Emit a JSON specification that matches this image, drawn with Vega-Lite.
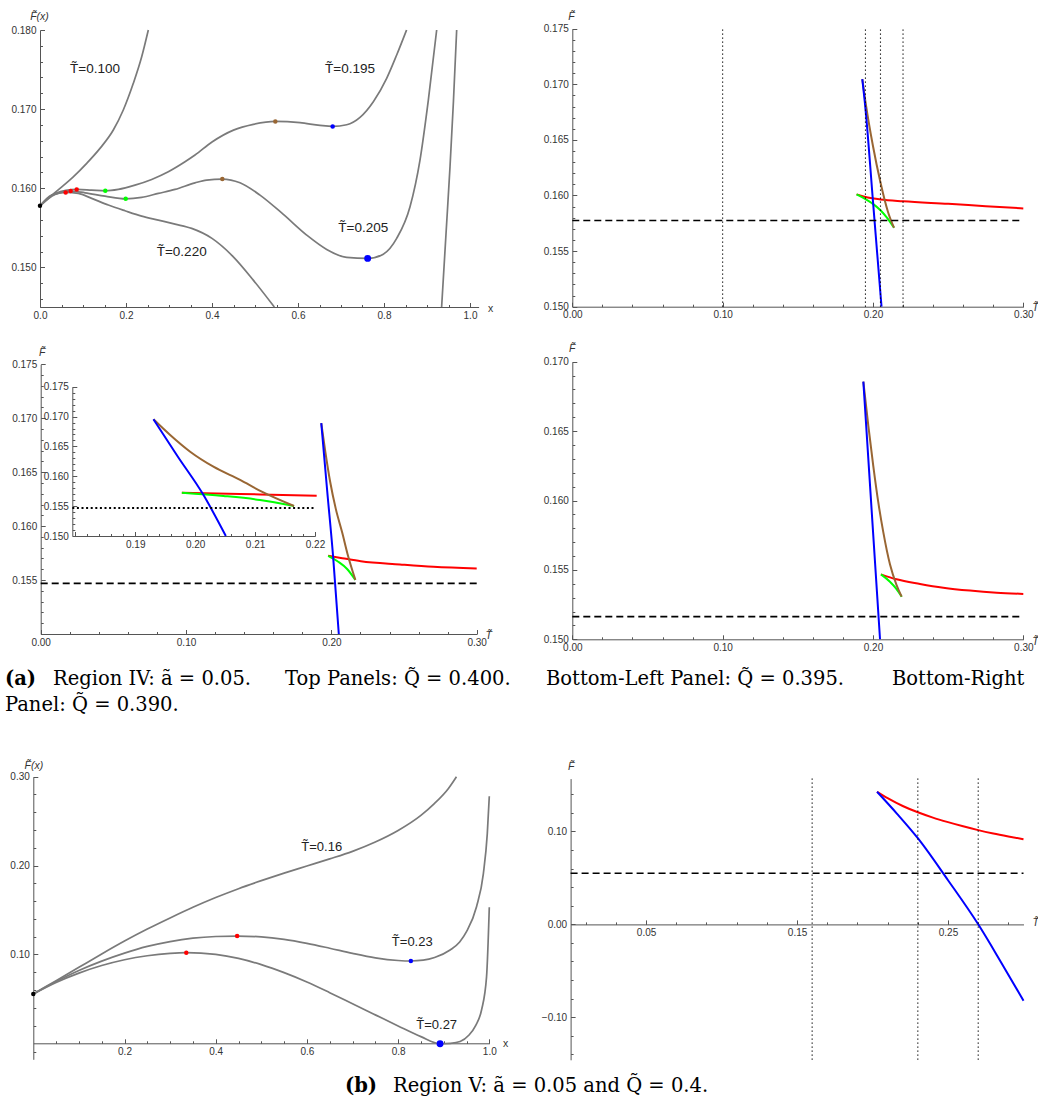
{
"$schema": "https://vega.github.io/schema/vega-lite/v6.json",
"width": 1038, "height": 1101, "autosize": {"type": "none"}, "padding": 0, "background": "white",
"config": {
  "view": {"stroke": null},
  "axis": {"grid": false, "domainColor": "#555", "domainWidth": 1, "tickColor": "#555", "tickWidth": 1,
    "labelFont": "Liberation Sans", "labelFontSize": 10, "labelColor": "#333", "labelOverlap": false, "labelFlush": false, "labelSeparation": -60,
    "titleFont": "Liberation Sans", "titleFontSize": 10.5, "titleFontWeight": "normal", "titleColor": "#333"}
},
"datasets": {
  "p1": [
    {"T":"0.100","seg":1,"x":0,"F":0.15778},{"T":"0.100","seg":1,"x":0.0233,"F":0.15893},{"T":"0.100","seg":1,"x":0.0465,"F":0.15999},{"T":"0.100","seg":1,"x":0.0774,"F":0.16145},{"T":"0.100","seg":1,"x":0.1086,"F":0.16315},{"T":"0.100","seg":1,"x":0.1395,"F":0.16504},{"T":"0.100","seg":1,"x":0.1705,"F":0.16736},{"T":"0.100","seg":1,"x":0.1937,"F":0.16989},{"T":"0.100","seg":1,"x":0.217,"F":0.17326},{"T":"0.100","seg":1,"x":0.2365,"F":0.17662},{"T":"0.100","seg":1,"x":0.2519,"F":0.18},
    {"T":"0.195","seg":1,"x":0,"F":0.15778},{"T":"0.195","seg":1,"x":0.0349,"F":0.15935},{"T":"0.195","seg":1,"x":0.0853,"F":0.15986},{"T":"0.195","seg":1,"x":0.1202,"F":0.15977},{"T":"0.195","seg":1,"x":0.1519,"F":0.15968},{"T":"0.195","seg":1,"x":0.1822,"F":0.15986},{"T":"0.195","seg":1,"x":0.2209,"F":0.1604},{"T":"0.195","seg":1,"x":0.2597,"F":0.16112},{"T":"0.195","seg":1,"x":0.2984,"F":0.16209},{"T":"0.195","seg":1,"x":0.3372,"F":0.16335},{"T":"0.195","seg":1,"x":0.3605,"F":0.1642},{"T":"0.195","seg":1,"x":0.4,"F":0.16585},{"T":"0.195","seg":1,"x":0.45,"F":0.16735},{"T":"0.195","seg":1,"x":0.4961,"F":0.16808},{"T":"0.195","seg":1,"x":0.5473,"F":0.16845},{"T":"0.195","seg":1,"x":0.6047,"F":0.16829},{"T":"0.195","seg":1,"x":0.6512,"F":0.16795},{"T":"0.195","seg":1,"x":0.6806,"F":0.16782},{"T":"0.195","seg":1,"x":0.7132,"F":0.16803},{"T":"0.195","seg":1,"x":0.7442,"F":0.16896},{"T":"0.195","seg":1,"x":0.7752,"F":0.17094},{"T":"0.195","seg":1,"x":0.8062,"F":0.17389},{"T":"0.195","seg":1,"x":0.8295,"F":0.17684},{"T":"0.195","seg":1,"x":0.8525,"F":0.18},
    {"T":"0.205","seg":1,"x":0,"F":0.15778},{"T":"0.205","seg":1,"x":0.0349,"F":0.15923},{"T":"0.205","seg":1,"x":0.0713,"F":0.15965},{"T":"0.205","seg":1,"x":0.1047,"F":0.15943},{"T":"0.205","seg":1,"x":0.1512,"F":0.15901},{"T":"0.205","seg":1,"x":0.1993,"F":0.15867},{"T":"0.205","seg":1,"x":0.2364,"F":0.15885},{"T":"0.205","seg":1,"x":0.2752,"F":0.15935},{"T":"0.205","seg":1,"x":0.314,"F":0.15986},{"T":"0.205","seg":1,"x":0.3605,"F":0.16069},{"T":"0.205","seg":1,"x":0.3876,"F":0.16104},{"T":"0.205","seg":1,"x":0.424,"F":0.16117},{"T":"0.205","seg":1,"x":0.4651,"F":0.1607},{"T":"0.205","seg":1,"x":0.5116,"F":0.15914},{"T":"0.205","seg":1,"x":0.5659,"F":0.1567},{"T":"0.205","seg":1,"x":0.6202,"F":0.15409},{"T":"0.205","seg":1,"x":0.6667,"F":0.15228},{"T":"0.205","seg":1,"x":0.7132,"F":0.15126},{"T":"0.205","seg":1,"x":0.762,"F":0.15114},{"T":"0.205","seg":1,"x":0.7984,"F":0.15168},{"T":"0.205","seg":1,"x":0.8295,"F":0.15367},{"T":"0.205","seg":1,"x":0.8605,"F":0.15767},{"T":"0.205","seg":1,"x":0.8837,"F":0.16357},{"T":"0.205","seg":1,"x":0.9031,"F":0.17115},{"T":"0.205","seg":1,"x":0.9225,"F":0.18},
    {"T":"0.220","seg":1,"x":0,"F":0.15778},{"T":"0.220","seg":1,"x":0.0271,"F":0.15914},{"T":"0.220","seg":1,"x":0.0597,"F":0.15948},{"T":"0.220","seg":1,"x":0.0891,"F":0.15935},{"T":"0.220","seg":1,"x":0.1202,"F":0.15872},{"T":"0.220","seg":1,"x":0.1589,"F":0.15788},{"T":"0.220","seg":1,"x":0.1977,"F":0.15716},{"T":"0.220","seg":1,"x":0.2364,"F":0.15649},{"T":"0.220","seg":1,"x":0.2752,"F":0.15598},{"T":"0.220","seg":1,"x":0.314,"F":0.15547},{"T":"0.220","seg":1,"x":0.3527,"F":0.15493},{"T":"0.220","seg":1,"x":0.4,"F":0.15367},{"T":"0.220","seg":1,"x":0.4496,"F":0.15134},{"T":"0.220","seg":1,"x":0.496,"F":0.1484},{"T":"0.220","seg":1,"x":0.545,"F":0.145},
    {"T":"0.220","seg":2,"x":0.934,"F":0.145},{"T":"0.220","seg":2,"x":0.9445,"F":0.1545},{"T":"0.220","seg":2,"x":0.9535,"F":0.1627},{"T":"0.220","seg":2,"x":0.9615,"F":0.171},{"T":"0.220","seg":2,"x":0.969,"F":0.18}
  ],
  "p1dots": [
    {"T":"all","branch":"origin","x":0,"F":0.15778,"global":false},
    {"T":"0.220","branch":"max1","x":0.0597,"F":0.15948,"global":false},
    {"T":"0.205","branch":"max1","x":0.0713,"F":0.15965,"global":false},
    {"T":"0.195","branch":"max1","x":0.0853,"F":0.15986,"global":false},
    {"T":"0.195","branch":"min1","x":0.1519,"F":0.15968,"global":false},
    {"T":"0.205","branch":"min1","x":0.1993,"F":0.15867,"global":false},
    {"T":"0.195","branch":"max2","x":0.5473,"F":0.16845,"global":false},
    {"T":"0.205","branch":"max2","x":0.424,"F":0.16117,"global":false},
    {"T":"0.195","branch":"min2","x":0.6806,"F":0.16782,"global":false},
    {"T":"0.205","branch":"min2","x":0.762,"F":0.15114,"global":true}
  ],
  "p1labels": [
    {"label":"T\u0303=0.100","x":0.1279,"F":0.17507},
    {"label":"T\u0303=0.195","x":0.7209,"F":0.17507},
    {"label":"T\u0303=0.205","x":0.7519,"F":0.15493},
    {"label":"T\u0303=0.220","x":0.3295,"F":0.1519}
  ],
  "p2": [
    {"branch":"max1","T":0.1891,"F":0.1601},{"branch":"max1","T":0.195,"F":0.15986},{"branch":"max1","T":0.205,"F":0.15965},{"branch":"max1","T":0.22,"F":0.15948},{"branch":"max1","T":0.25,"F":0.15925},{"branch":"max1","T":0.275,"F":0.15904},{"branch":"max1","T":0.3,"F":0.15884},
    {"branch":"min1","T":0.1891,"F":0.1601},{"branch":"min1","T":0.195,"F":0.15968},{"branch":"min1","T":0.2,"F":0.15925},{"branch":"min1","T":0.205,"F":0.15867},{"branch":"min1","T":0.209,"F":0.15805},{"branch":"min1","T":0.214,"F":0.1571},
    {"branch":"max2","T":0.1929,"F":0.17047},{"branch":"max2","T":0.195,"F":0.16845},{"branch":"max2","T":0.2,"F":0.16445},{"branch":"max2","T":0.205,"F":0.16117},{"branch":"max2","T":0.21,"F":0.15852},{"branch":"max2","T":0.214,"F":0.1571},
    {"branch":"min2","T":0.1929,"F":0.17047},{"branch":"min2","T":0.195,"F":0.16782},{"branch":"min2","T":0.2,"F":0.1595},{"branch":"min2","T":0.205,"F":0.15114},{"branch":"min2","T":0.2057,"F":0.15}
  ],
  "p2v": [{"T":0.1,"F":0.15},{"T":0.1,"F":0.175},{"T":0.195,"F":0.15},{"T":0.195,"F":0.175},{"T":0.205,"F":0.15},{"T":0.205,"F":0.175},{"T":0.22,"F":0.15},{"T":0.22,"F":0.175}],
  "p2h": [{"T":0,"F":0.15775},{"T":0.3,"F":0.15775}],
  "p3": [
    {"branch":"max1","T":0.19778,"F":0.15725},{"branch":"max1","T":0.2075,"F":0.15703},{"branch":"max1","T":0.22028,"F":0.15675},{"branch":"max1","T":0.2472,"F":0.15645},{"branch":"max1","T":0.2702,"F":0.15623},{"branch":"max1","T":0.3,"F":0.15608},
    {"branch":"min1","T":0.19778,"F":0.15725},{"branch":"min1","T":0.20472,"F":0.1567},{"branch":"min1","T":0.21083,"F":0.15603},{"branch":"min1","T":0.2165,"F":0.15502},
    {"branch":"max2","T":0.19305,"F":0.16954},{"branch":"max2","T":0.19583,"F":0.16691},{"branch":"max2","T":0.19917,"F":0.16411},{"branch":"max2","T":0.20305,"F":0.1616},{"branch":"max2","T":0.2075,"F":0.15938},{"branch":"max2","T":0.21112,"F":0.15742},{"branch":"max2","T":0.2165,"F":0.15502},
    {"branch":"min2","T":0.19305,"F":0.16954},{"branch":"min2","T":0.19712,"F":0.16328},{"branch":"min2","T":0.20122,"F":0.15715},{"branch":"min2","T":0.20512,"F":0.15}
  ],
  "p3h": [{"T":0,"F":0.1547},{"T":0.3,"F":0.1547}],
  "p3insh": [{"T":0.1795,"F":0.1547},{"T":0.22,"F":0.1547}],
  "p4": [
    {"branch":"max1","T":0.2053,"F":0.15468},{"branch":"max1","T":0.2157,"F":0.15432},{"branch":"max1","T":0.2313,"F":0.15399},{"branch":"max1","T":0.2468,"F":0.15372},{"branch":"max1","T":0.2645,"F":0.15351},{"branch":"max1","T":0.2823,"F":0.15336},{"branch":"max1","T":0.3,"F":0.15327},
    {"branch":"min1","T":0.2053,"F":0.15468},{"branch":"min1","T":0.2113,"F":0.15415},{"branch":"min1","T":0.2153,"F":0.15367},{"branch":"min1","T":0.2191,"F":0.15307},
    {"branch":"max2","T":0.1936,"F":0.16856},{"branch":"max2","T":0.1969,"F":0.1654},{"branch":"max2","T":0.2002,"F":0.1625},{"branch":"max2","T":0.2035,"F":0.1599},{"branch":"max2","T":0.2069,"F":0.1577},{"branch":"max2","T":0.2113,"F":0.1554},{"branch":"max2","T":0.2157,"F":0.1539},{"branch":"max2","T":0.2191,"F":0.15307},
    {"branch":"min2","T":0.1936,"F":0.16856},{"branch":"min2","T":0.1991,"F":0.15932},{"branch":"min2","T":0.2047,"F":0.15}
  ],
  "p4h": [{"T":0,"F":0.15163},{"T":0.3,"F":0.15163}],
  "p5": [
    {"T":"0.16","x":0,"F":0.0555},{"T":"0.16","x":0.05,"F":0.0705},{"T":"0.16","x":0.1,"F":0.0855},{"T":"0.16","x":0.15,"F":0.1005},{"T":"0.16","x":0.2,"F":0.115},{"T":"0.16","x":0.25,"F":0.1285},{"T":"0.16","x":0.3,"F":0.141},{"T":"0.16","x":0.35,"F":0.153},{"T":"0.16","x":0.4,"F":0.164},{"T":"0.16","x":0.45,"F":0.174},{"T":"0.16","x":0.5,"F":0.183},{"T":"0.16","x":0.55,"F":0.1915},{"T":"0.16","x":0.6,"F":0.1995},{"T":"0.16","x":0.65,"F":0.2075},{"T":"0.16","x":0.7,"F":0.216},{"T":"0.16","x":0.75,"F":0.2265},{"T":"0.16","x":0.8,"F":0.2395},{"T":"0.16","x":0.85,"F":0.2565},{"T":"0.16","x":0.88,"F":0.27},{"T":"0.16","x":0.91,"F":0.2865},{"T":"0.16","x":0.928,"F":0.3},
    {"T":"0.23","x":0,"F":0.0555},{"T":"0.23","x":0.05,"F":0.0695},{"T":"0.23","x":0.1,"F":0.082},{"T":"0.23","x":0.15,"F":0.0925},{"T":"0.23","x":0.2,"F":0.1015},{"T":"0.23","x":0.25,"F":0.109},{"T":"0.23","x":0.3,"F":0.1145},{"T":"0.23","x":0.35,"F":0.1183},{"T":"0.23","x":0.4,"F":0.1202},{"T":"0.23","x":0.447,"F":0.1207},{"T":"0.23","x":0.5,"F":0.1198},{"T":"0.23","x":0.55,"F":0.117},{"T":"0.23","x":0.6,"F":0.1125},{"T":"0.23","x":0.65,"F":0.107},{"T":"0.23","x":0.7,"F":0.1012},{"T":"0.23","x":0.75,"F":0.0962},{"T":"0.23","x":0.8,"F":0.0932},{"T":"0.23","x":0.828,"F":0.0926},{"T":"0.23","x":0.855,"F":0.0935},{"T":"0.23","x":0.88,"F":0.0965},{"T":"0.23","x":0.914,"F":0.105},{"T":"0.23","x":0.935,"F":0.114},{"T":"0.23","x":0.95,"F":0.1256},{"T":"0.23","x":0.972,"F":0.1537},{"T":"0.23","x":0.987,"F":0.191},{"T":"0.23","x":0.9956,"F":0.236},{"T":"0.23","x":1,"F":0.278},
    {"T":"0.27","x":0,"F":0.0555},{"T":"0.27","x":0.05,"F":0.0685},{"T":"0.27","x":0.1,"F":0.079},{"T":"0.27","x":0.15,"F":0.0875},{"T":"0.27","x":0.2,"F":0.094},{"T":"0.27","x":0.25,"F":0.0985},{"T":"0.27","x":0.3,"F":0.1012},{"T":"0.27","x":0.3355,"F":0.102},{"T":"0.27","x":0.4,"F":0.1},{"T":"0.27","x":0.45,"F":0.0955},{"T":"0.27","x":0.5,"F":0.0885},{"T":"0.27","x":0.55,"F":0.0795},{"T":"0.27","x":0.6,"F":0.069},{"T":"0.27","x":0.65,"F":0.057},{"T":"0.27","x":0.7,"F":0.0445},{"T":"0.27","x":0.75,"F":0.032},{"T":"0.27","x":0.8,"F":0.0195},{"T":"0.27","x":0.85,"F":0.0075},{"T":"0.27","x":0.892,"F":-0.0005},{"T":"0.27","x":0.915,"F":0},{"T":"0.27","x":0.936,"F":0.002},{"T":"0.27","x":0.955,"F":0.009},{"T":"0.27","x":0.97,"F":0.02},{"T":"0.27","x":0.983,"F":0.0375},{"T":"0.27","x":0.994,"F":0.075},{"T":"0.27","x":1,"F":0.153}
  ],
  "p5dots": [
    {"T":"all","branch":"origin","x":0,"F":0.0555,"global":false},
    {"T":"0.23","branch":"max1","x":0.447,"F":0.1207,"global":false},
    {"T":"0.27","branch":"max1","x":0.3355,"F":0.102,"global":false},
    {"T":"0.23","branch":"min2","x":0.828,"F":0.0926,"global":false},
    {"T":"0.27","branch":"min2","x":0.892,"F":-0.0005,"global":true}
  ],
  "p5labels": [
    {"label":"T\u0303=0.16","x":0.6325,"F":0.2205},
    {"label":"T\u0303=0.23","x":0.8311,"F":0.1143},
    {"label":"T\u0303=0.27","x":0.8846,"F":0.0203}
  ],
  "p6": [
    {"branch":"max1","T":0.203,"F":0.1428},{"branch":"max1","T":0.21,"F":0.136},{"branch":"max1","T":0.22,"F":0.1275},{"branch":"max1","T":0.23,"F":0.1207},{"branch":"max1","T":0.24,"F":0.115},{"branch":"max1","T":0.25,"F":0.1101},{"branch":"max1","T":0.26,"F":0.1056},{"branch":"max1","T":0.27,"F":0.1015},{"branch":"max1","T":0.28,"F":0.0979},{"branch":"max1","T":0.29,"F":0.0947},{"branch":"max1","T":0.3,"F":0.0917},
    {"branch":"min2","T":0.203,"F":0.1428},{"branch":"min2","T":0.2164,"F":0.1188},{"branch":"min2","T":0.23,"F":0.0928},{"branch":"min2","T":0.25,"F":0.0475},{"branch":"min2","T":0.27,"F":0},{"branch":"min2","T":0.285,"F":-0.0405},{"branch":"min2","T":0.3,"F":-0.0823}
  ],
  "p6v": [{"T":0.16,"F":-0.146},{"T":0.16,"F":0.157},{"T":0.23,"F":-0.146},{"T":0.23,"F":0.157},{"T":0.27,"F":-0.146},{"T":0.27,"F":0.157}],
  "p6h": [{"T":0,"F":0.055},{"T":0.3,"F":0.055}],
  "capA": [
    {"role":"tag","col":0,"line":1,"text":"(a)"},
    {"role":"body","col":1,"line":1,"text":"Region IV: \u00e3 = 0.05."},
    {"role":"body","col":2,"line":1,"text":"Top Panels: Q\u0303 = 0.400."},
    {"role":"body","col":3,"line":1,"text":"Bottom-Left Panel: Q\u0303 = 0.395."},
    {"role":"body","col":4,"line":1,"text":"Bottom-Right"},
    {"role":"body","col":0,"line":2,"text":"Panel: Q\u0303 = 0.390."}
  ],
  "capB": [
    {"role":"tag","col":0,"line":1,"text":"(b)"},
    {"role":"body","col":1,"line":1,"text":"Region V: \u00e3 = 0.05 and Q\u0303 = 0.4."}
  ]
},
"layer": [
  {
    "layer": [
      {"data": {"name": "p1"}, "mark": {"type": "line", "interpolate": "monotone", "strokeWidth": 1.7, "color": "#7a7a7a"},
       "encoding": {
         "x": {"field": "x", "type": "quantitative", "scale": {"domain": [0, 1.02], "range": [40, 478.6], "nice": false, "zero": false},
           "axis": {"orient": "bottom", "offset": -794, "values": [0,0.05,0.1,0.15,0.2,0.25,0.3,0.35,0.4,0.45,0.5,0.55,0.6,0.65,0.7,0.75,0.8,0.85,0.9,0.95,1],
             "labelExpr": "abs(datum.value*5-round(datum.value*5))<0.001 ? format(datum.value,'.1f') : ''",
             "tickSize": {"condition": {"test": "abs(datum.value*5-round(datum.value*5))<0.001", "value": -4.5}, "value": -2.5},
             "labelOverlap": false, "labelFlush": false, "labelSeparation": -60,
             "labelPadding": 7.5, "title": "x", "titleX": 490, "titleY": 1, "titleAngle": 0, "titleAlign": "center", "titleBaseline": "middle"}},
         "y": {"field": "F", "type": "quantitative", "scale": {"domain": [0.145, 0.18], "range": [307, 30], "nice": false, "zero": false},
           "axis": {"orient": "left", "offset": -40, "values": [0.146,0.147,0.148,0.149,0.15,0.151,0.152,0.153,0.154,0.155,0.156,0.157,0.158,0.159,0.16,0.161,0.162,0.163,0.164,0.165,0.166,0.167,0.168,0.169,0.17,0.171,0.172,0.173,0.174,0.175,0.176,0.177,0.178,0.179,0.18],
             "labelExpr": "abs(datum.value*200-round(datum.value*200))<0.001 ? format(datum.value,'.3f') : ''",
             "tickSize": {"condition": {"test": "abs(datum.value*200-round(datum.value*200))<0.001", "value": -4.5}, "value": -2.5},
             "labelOverlap": false, "labelFlush": false, "labelSeparation": -60,
             "labelPadding": 8.5, "title": "F\u0303(x)", "titleX": -1, "titleY": 16, "titleAngle": 0, "titleAlign": "center", "titleBaseline": "middle", "titleFontStyle": "italic"}},
         "detail": [{"field": "T", "type": "nominal"}, {"field": "seg", "type": "nominal"}]
       }},
      {"data": {"name": "p1dots"}, "mark": {"type": "circle", "opacity": 1},
       "encoding": {
         "x": {"field": "x", "type": "quantitative"},
         "y": {"field": "F", "type": "quantitative"},
         "color": {"field": "branch", "type": "nominal", "scale": {"domain": ["origin","max1","min1","max2","min2"], "range": ["#000000","#ff0000","#00ff00","#996633","#0000ff"]}, "legend": null},
         "size": {"condition": {"test": "datum.global", "value": 48}, "value": 20}
       }},
      {"data": {"name": "p1labels"}, "mark": {"type": "text", "font": "Liberation Sans", "fontSize": 13.5, "color": "#222", "align": "center", "baseline": "middle"},
       "encoding": {
         "x": {"field": "x", "type": "quantitative"},
         "y": {"field": "F", "type": "quantitative"},
         "text": {"field": "label"}
       }}
    ]
  },
  {
    "layer": [
      {"data": {"name": "p2"}, "mark": {"type": "line", "interpolate": "monotone", "strokeWidth": 2},
       "encoding": {
         "x": {"field": "T", "type": "quantitative", "scale": {"domain": [0, 0.3], "range": [572.3, 1023.3], "nice": false, "zero": false},
           "axis": {"orient": "bottom", "offset": -794.3, "values": [0,0.01,0.02,0.03,0.04,0.05,0.06,0.07,0.08,0.09,0.1,0.11,0.12,0.13,0.14,0.15,0.16,0.17,0.18,0.19,0.2,0.21,0.22,0.23,0.24,0.25,0.26,0.27,0.28,0.29,0.3],
             "labelExpr": "abs(datum.value*20-round(datum.value*20))<0.001 ? format(datum.value,'.2f') : ''",
             "tickSize": {"condition": {"test": "abs(datum.value*20-round(datum.value*20))<0.001", "value": -4.5}, "value": -2.5},
             "labelOverlap": false, "labelFlush": false, "labelSeparation": -60,
             "labelPadding": 7.5, "title": "T\u0303", "titleX": 1035, "titleY": 1, "titleAngle": 0, "titleAlign": "center", "titleBaseline": "middle", "titleFontStyle": "italic"}},
         "y": {"field": "F", "type": "quantitative", "scale": {"domain": [0.15, 0.175], "range": [306.7, 28.7], "nice": false, "zero": false},
           "axis": {"orient": "left", "offset": -572.3, "values": [0.15,0.151,0.152,0.153,0.154,0.155,0.156,0.157,0.158,0.159,0.16,0.161,0.162,0.163,0.164,0.165,0.166,0.167,0.168,0.169,0.17,0.171,0.172,0.173,0.174,0.175],
             "labelExpr": "abs(datum.value*200-round(datum.value*200))<0.001 ? format(datum.value,'.3f') : ''",
             "tickSize": {"condition": {"test": "abs(datum.value*200-round(datum.value*200))<0.001", "value": -4.5}, "value": -2.5},
             "labelOverlap": false, "labelFlush": false, "labelSeparation": -60,
             "labelPadding": 8.5, "title": "F\u0303", "titleX": -1.3, "titleY": 16, "titleAngle": 0, "titleAlign": "center", "titleBaseline": "middle", "titleFontStyle": "italic"}},
         "color": {"field": "branch", "type": "nominal", "scale": {"domain": ["origin","max1","min1","max2","min2"], "range": ["#000000","#ff0000","#00ff00","#996633","#0000ff"]}, "legend": null}
       }},
      {"data": {"name": "p2v"}, "mark": {"type": "line", "strokeDash": [1.2, 2.8], "strokeWidth": 1.1, "color": "#000"},
       "encoding": {"x": {"field": "T", "type": "quantitative"}, "y": {"field": "F", "type": "quantitative"}, "detail": {"field": "T", "type": "nominal"}}},
      {"data": {"name": "p2h"}, "mark": {"type": "line", "strokeDash": [7, 4], "strokeWidth": 1.7, "color": "#000"},
       "encoding": {"x": {"field": "T", "type": "quantitative"}, "y": {"field": "F", "type": "quantitative"}}}
    ]
  },
  {
    "layer": [
      {"data": {"name": "p3"}, "mark": {"type": "line", "interpolate": "monotone", "strokeWidth": 2},
       "encoding": {
         "x": {"field": "T", "type": "quantitative", "scale": {"domain": [0, 0.3], "range": [40.7, 476.7], "nice": false, "zero": false},
           "axis": {"orient": "bottom", "offset": -467, "values": [0,0.01,0.02,0.03,0.04,0.05,0.06,0.07,0.08,0.09,0.1,0.11,0.12,0.13,0.14,0.15,0.16,0.17,0.18,0.19,0.2,0.21,0.22,0.23,0.24,0.25,0.26,0.27,0.28,0.29,0.3],
             "labelExpr": "abs(datum.value*20-round(datum.value*20))<0.001 ? format(datum.value,'.2f') : ''",
             "tickSize": {"condition": {"test": "abs(datum.value*20-round(datum.value*20))<0.001", "value": -4.5}, "value": -2.5},
             "labelOverlap": false, "labelFlush": false, "labelSeparation": -60,
             "labelPadding": 7.5, "title": "T\u0303", "titleX": 488.3, "titleY": 1, "titleAngle": 0, "titleAlign": "center", "titleBaseline": "middle", "titleFontStyle": "italic"}},
         "y": {"field": "F", "type": "quantitative", "scale": {"domain": [0.15, 0.175], "range": [634, 364.3], "nice": false, "zero": false},
           "axis": {"orient": "left", "offset": -40.7, "values": [0.15,0.151,0.152,0.153,0.154,0.155,0.156,0.157,0.158,0.159,0.16,0.161,0.162,0.163,0.164,0.165,0.166,0.167,0.168,0.169,0.17,0.171,0.172,0.173,0.174,0.175],
             "labelExpr": "datum.value > 0.1505 ? (abs(datum.value*200-round(datum.value*200))<0.001 ? format(datum.value,'.3f') : '') : ''",
             "tickSize": {"condition": {"test": "abs(datum.value*200-round(datum.value*200))<0.001", "value": -4.5}, "value": -2.5},
             "labelOverlap": false, "labelFlush": false, "labelSeparation": -60,
             "labelPadding": 8.5, "title": "F\u0303", "titleX": 1, "titleY": 352.7, "titleAngle": 0, "titleAlign": "center", "titleBaseline": "middle", "titleFontStyle": "italic"}},
         "color": {"field": "branch", "type": "nominal", "scale": {"domain": ["origin","max1","min1","max2","min2"], "range": ["#000000","#ff0000","#00ff00","#996633","#0000ff"]}, "legend": null}
       }},
      {"data": {"name": "p3h"}, "mark": {"type": "line", "strokeDash": [7, 4], "strokeWidth": 1.7, "color": "#000"},
       "encoding": {"x": {"field": "T", "type": "quantitative"}, "y": {"field": "F", "type": "quantitative"}}}
    ]
  },
  {
    "layer": [
      {"data": {"name": "p3"}, "transform": [{"filter": "datum.T <= 0.2205"}], "mark": {"type": "line", "interpolate": "monotone", "strokeWidth": 2},
       "encoding": {
         "x": {"field": "T", "type": "quantitative", "scale": {"domain": [0.1795, 0.22], "range": [72.3, 315], "nice": false, "zero": false},
           "axis": {"orient": "bottom", "offset": -565, "values": [0.18,0.182,0.184,0.186,0.188,0.19,0.192,0.194,0.196,0.198,0.2,0.202,0.204,0.206,0.208,0.21,0.212,0.214,0.216,0.218,0.22],
             "labelExpr": "datum.value > 0.185 ? (abs(datum.value*100-round(datum.value*100))<0.001 ? format(datum.value,'.2f') : '') : ''",
             "tickSize": {"condition": {"test": "abs(datum.value*100-round(datum.value*100))<0.001", "value": -4.5}, "value": -2.5},
             "labelOverlap": false, "labelFlush": false, "labelSeparation": -60,
             "labelPadding": 7.5, "title": ""}},
         "y": {"field": "F", "type": "quantitative", "scale": {"domain": [0.15, 0.175], "range": [536, 386.7], "nice": false, "zero": false},
           "axis": {"orient": "left", "offset": -72.3, "values": [0.15,0.151,0.152,0.153,0.154,0.155,0.156,0.157,0.158,0.159,0.16,0.161,0.162,0.163,0.164,0.165,0.166,0.167,0.168,0.169,0.17,0.171,0.172,0.173,0.174,0.175],
             "labelExpr": "abs(datum.value*200-round(datum.value*200))<0.001 ? format(datum.value,'.3f') : ''",
             "tickSize": {"condition": {"test": "abs(datum.value*200-round(datum.value*200))<0.001", "value": -4.5}, "value": -2.5},
             "labelOverlap": false, "labelFlush": false, "labelSeparation": -60,
             "labelPadding": 8.5, "title": ""}},
         "color": {"field": "branch", "type": "nominal", "scale": {"domain": ["origin","max1","min1","max2","min2"], "range": ["#000000","#ff0000","#00ff00","#996633","#0000ff"]}, "legend": null}
       }},
      {"data": {"name": "p3insh"}, "mark": {"type": "line", "strokeDash": [2, 2.6], "strokeWidth": 1.9, "color": "#000"},
       "encoding": {"x": {"field": "T", "type": "quantitative"}, "y": {"field": "F", "type": "quantitative"}}}
    ]
  },
  {
    "layer": [
      {"data": {"name": "p4"}, "mark": {"type": "line", "interpolate": "monotone", "strokeWidth": 2},
       "encoding": {
         "x": {"field": "T", "type": "quantitative", "scale": {"domain": [0, 0.3], "range": [572.3, 1023.3], "nice": false, "zero": false},
           "axis": {"orient": "bottom", "offset": -461.7, "values": [0,0.01,0.02,0.03,0.04,0.05,0.06,0.07,0.08,0.09,0.1,0.11,0.12,0.13,0.14,0.15,0.16,0.17,0.18,0.19,0.2,0.21,0.22,0.23,0.24,0.25,0.26,0.27,0.28,0.29,0.3],
             "labelExpr": "abs(datum.value*20-round(datum.value*20))<0.001 ? format(datum.value,'.2f') : ''",
             "tickSize": {"condition": {"test": "abs(datum.value*20-round(datum.value*20))<0.001", "value": -4.5}, "value": -2.5},
             "labelOverlap": false, "labelFlush": false, "labelSeparation": -60,
             "labelPadding": 7.5, "title": "T\u0303", "titleX": 1035, "titleY": 2, "titleAngle": 0, "titleAlign": "center", "titleBaseline": "middle", "titleFontStyle": "italic"}},
         "y": {"field": "F", "type": "quantitative", "scale": {"domain": [0.15, 0.17], "range": [639.3, 361.7], "nice": false, "zero": false},
           "axis": {"orient": "left", "offset": -572.3, "values": [0.15,0.151,0.152,0.153,0.154,0.155,0.156,0.157,0.158,0.159,0.16,0.161,0.162,0.163,0.164,0.165,0.166,0.167,0.168,0.169,0.17],
             "labelExpr": "abs(datum.value*200-round(datum.value*200))<0.001 ? format(datum.value,'.3f') : ''",
             "tickSize": {"condition": {"test": "abs(datum.value*200-round(datum.value*200))<0.001", "value": -4.5}, "value": -2.5},
             "labelOverlap": false, "labelFlush": false, "labelSeparation": -60,
             "labelPadding": 8.5, "title": "F\u0303", "titleX": -0.6, "titleY": 348.3, "titleAngle": 0, "titleAlign": "center", "titleBaseline": "middle", "titleFontStyle": "italic"}},
         "color": {"field": "branch", "type": "nominal", "scale": {"domain": ["origin","max1","min1","max2","min2"], "range": ["#000000","#ff0000","#00ff00","#996633","#0000ff"]}, "legend": null}
       }},
      {"data": {"name": "p4h"}, "mark": {"type": "line", "strokeDash": [7, 4], "strokeWidth": 1.7, "color": "#000"},
       "encoding": {"x": {"field": "T", "type": "quantitative"}, "y": {"field": "F", "type": "quantitative"}}}
    ]
  },
  {
    "layer": [
      {"data": {"name": "p5"}, "mark": {"type": "line", "interpolate": "monotone", "strokeWidth": 1.7, "color": "#7a7a7a"},
       "encoding": {
         "x": {"field": "x", "type": "quantitative", "scale": {"domain": [0, 1], "range": [33.3, 489.3], "nice": false, "zero": false},
           "axis": {"orient": "bottom", "offset": -57.7, "values": [0.05,0.1,0.15,0.2,0.25,0.3,0.35,0.4,0.45,0.5,0.55,0.6,0.65,0.7,0.75,0.8,0.85,0.9,0.95,1],
             "labelExpr": "abs(datum.value*5-round(datum.value*5))<0.001 ? format(datum.value,'.1f') : ''",
             "tickSize": {"condition": {"test": "abs(datum.value*5-round(datum.value*5))<0.001", "value": -4.5}, "value": -2.5},
             "labelOverlap": false, "labelFlush": false, "labelSeparation": -60,
             "labelPadding": 7.5, "title": "x", "titleX": 505, "titleY": 0, "titleAngle": 0, "titleAlign": "center", "titleBaseline": "middle"}},
         "y": {"field": "F", "type": "quantitative", "scale": {"domain": [-0.018, 0.3], "range": [1059.3, 776.7], "nice": false, "zero": false},
           "axis": {"orient": "left", "offset": -33.3, "values": [-0.01,0.01,0.02,0.03,0.04,0.05,0.06,0.07,0.08,0.09,0.1,0.11,0.12,0.13,0.14,0.15,0.16,0.17,0.18,0.19,0.2,0.21,0.22,0.23,0.24,0.25,0.26,0.27,0.28,0.29,0.3],
             "labelExpr": "abs(datum.value*20-round(datum.value*20))<0.001 ? format(datum.value,'.2f') : ''",
             "tickSize": {"condition": {"test": "abs(datum.value*20-round(datum.value*20))<0.001", "value": -4.5}, "value": -2.5},
             "labelOverlap": false, "labelFlush": false, "labelSeparation": -60,
             "labelPadding": 8.5, "title": "F\u0303(x)", "titleX": 0, "titleY": 765, "titleAngle": 0, "titleAlign": "center", "titleBaseline": "middle", "titleFontStyle": "italic"}},
         "detail": {"field": "T", "type": "nominal"}
       }},
      {"data": {"name": "p5dots"}, "mark": {"type": "circle", "opacity": 1},
       "encoding": {
         "x": {"field": "x", "type": "quantitative"},
         "y": {"field": "F", "type": "quantitative"},
         "color": {"field": "branch", "type": "nominal", "scale": {"domain": ["origin","max1","min1","max2","min2"], "range": ["#000000","#ff0000","#00ff00","#996633","#0000ff"]}, "legend": null},
         "size": {"condition": {"test": "datum.global", "value": 48}, "value": 20}
       }},
      {"data": {"name": "p5labels"}, "mark": {"type": "text", "font": "Liberation Sans", "fontSize": 13, "color": "#222", "align": "center", "baseline": "middle"},
       "encoding": {
         "x": {"field": "x", "type": "quantitative"},
         "y": {"field": "F", "type": "quantitative"},
         "text": {"field": "label"}
       }}
    ]
  },
  {
    "layer": [
      {"data": {"name": "p6"}, "mark": {"type": "line", "interpolate": "monotone", "strokeWidth": 2},
       "encoding": {
         "x": {"field": "T", "type": "quantitative", "scale": {"domain": [0, 0.3], "range": [570.6, 1023.5], "nice": false, "zero": false},
           "axis": {"orient": "bottom", "offset": -176.6, "values": [0.01,0.02,0.03,0.04,0.05,0.06,0.07,0.08,0.09,0.1,0.11,0.12,0.13,0.14,0.15,0.16,0.17,0.18,0.19,0.2,0.21,0.22,0.23,0.24,0.25,0.26,0.27,0.28,0.29,0.3],
             "labelExpr": "abs(datum.value*20-round(datum.value*20))<0.001 ? format(datum.value,'.2f') : ''",
             "tickSize": {"condition": {"test": "abs(datum.value*20-round(datum.value*20))<0.001", "value": -4.5}, "value": -2.5},
             "labelOverlap": false, "labelFlush": false, "labelSeparation": -60,
             "labelPadding": 7.5, "title": "T\u0303", "titleX": 1035.3, "titleY": -2, "titleAngle": 0, "titleAlign": "center", "titleBaseline": "middle", "titleFontStyle": "italic"}},
         "y": {"field": "F", "type": "quantitative", "scale": {"domain": [-0.146, 0.157], "range": [1059.8, 778.6], "nice": false, "zero": false},
           "axis": {"orient": "left", "offset": -570.6, "values": [-0.14,-0.13,-0.12,-0.11,-0.1,-0.09,-0.08,-0.07,-0.06,-0.05,-0.04,-0.03,-0.02,-0.01,0,0.01,0.02,0.03,0.04,0.05,0.06,0.07,0.08,0.09,0.1,0.11,0.12,0.13,0.14,0.15],
             "labelExpr": "abs(datum.value*20-round(datum.value*20))<0.001 ? format(datum.value,'.2f') : ''",
             "tickSize": {"condition": {"test": "abs(datum.value*20-round(datum.value*20))<0.001", "value": -4.5}, "value": -2.5},
             "labelOverlap": false, "labelFlush": false, "labelSeparation": -60,
             "labelPadding": 8.5, "title": "F\u0303", "titleX": 0, "titleY": 766, "titleAngle": 0, "titleAlign": "center", "titleBaseline": "middle", "titleFontStyle": "italic"}},
         "color": {"field": "branch", "type": "nominal", "scale": {"domain": ["origin","max1","min1","max2","min2"], "range": ["#000000","#ff0000","#00ff00","#996633","#0000ff"]}, "legend": null}
       }},
      {"data": {"name": "p6v"}, "mark": {"type": "line", "strokeDash": [1.2, 2.8], "strokeWidth": 1.1, "color": "#000"},
       "encoding": {"x": {"field": "T", "type": "quantitative"}, "y": {"field": "F", "type": "quantitative"}, "detail": {"field": "T", "type": "nominal"}}},
      {"data": {"name": "p6h"}, "mark": {"type": "line", "strokeDash": [7, 4], "strokeWidth": 1.7, "color": "#000"},
       "encoding": {"x": {"field": "T", "type": "quantitative"}, "y": {"field": "F", "type": "quantitative"}}}
    ]
  },
  {
    "data": {"name": "capA"},
    "encoding": {
      "x": {"field": "col", "type": "quantitative", "scale": {"domain": [0, 1, 2, 3, 4], "range": [5, 53, 285, 546, 892], "nice": false, "zero": false},
        "axis": {"orient": "bottom", "domain": false, "ticks": false, "labels": false, "title": ""}},
      "y": {"field": "line", "type": "quantitative", "scale": {"domain": [1, 2], "range": [685.3, 710.7], "nice": false, "zero": false},
        "axis": {"orient": "left", "domain": false, "ticks": false, "labels": false, "title": ""}},
      "text": {"field": "text"}
    },
    "layer": [
      {"transform": [{"filter": "datum.role === 'tag'"}], "mark": {"type": "text", "font": "DejaVu Serif", "fontWeight": "bold", "fontSize": 19.5, "align": "left", "baseline": "alphabetic", "color": "#000"}},
      {"transform": [{"filter": "datum.role === 'body'"}], "mark": {"type": "text", "font": "DejaVu Serif", "fontSize": 19.5, "align": "left", "baseline": "alphabetic", "color": "#000"}}
    ]
  },
  {
    "data": {"name": "capB"},
    "encoding": {
      "x": {"field": "col", "type": "quantitative", "scale": {"domain": [0, 1], "range": [345, 393], "nice": false, "zero": false},
        "axis": {"orient": "bottom", "domain": false, "ticks": false, "labels": false, "title": ""}},
      "y": {"field": "line", "type": "quantitative", "scale": {"domain": [1, 2], "range": [1092, 1117], "nice": false, "zero": false},
        "axis": {"orient": "left", "domain": false, "ticks": false, "labels": false, "title": ""}},
      "text": {"field": "text"}
    },
    "layer": [
      {"transform": [{"filter": "datum.role === 'tag'"}], "mark": {"type": "text", "font": "DejaVu Serif", "fontWeight": "bold", "fontSize": 19.5, "align": "left", "baseline": "alphabetic", "color": "#000"}},
      {"transform": [{"filter": "datum.role === 'body'"}], "mark": {"type": "text", "font": "DejaVu Serif", "fontSize": 19.5, "align": "left", "baseline": "alphabetic", "color": "#000"}}
    ]
  }
],
"resolve": {"scale": {"x": "independent", "y": "independent", "color": "independent"}, "axis": {"x": "independent", "y": "independent"}}
}
